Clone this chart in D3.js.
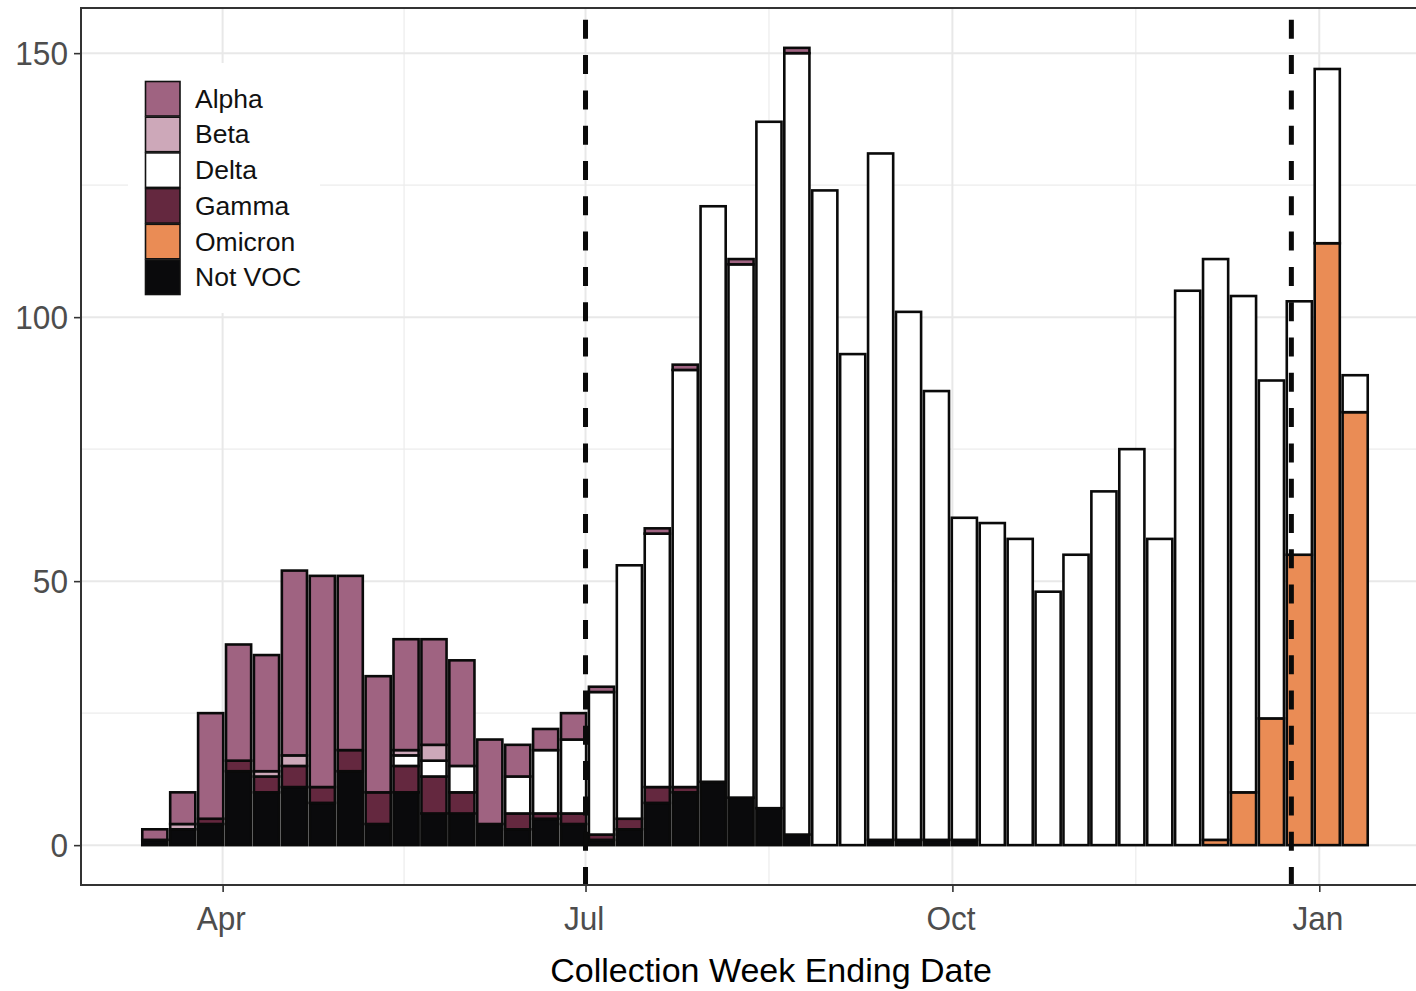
<!DOCTYPE html>
<html>
<head>
<meta charset="utf-8">
<script src="https://cdn.jsdelivr.net/npm/d3@7"></script>
<style>
  html, body { margin: 0; padding: 0; background: #fff; }
  svg { display: block; font-family: "Liberation Sans", Arial, sans-serif; }
</style>
</head>
<body>
<svg id="chart"></svg>
<script>
// week ending dates (one bar each)
const weeks = [
  '2021-03-15', '2021-03-22', '2021-03-29', '2021-04-05', '2021-04-12', '2021-04-19',
  '2021-04-26', '2021-05-03', '2021-05-10', '2021-05-17', '2021-05-24', '2021-05-31',
  '2021-06-07', '2021-06-14', '2021-06-21', '2021-06-28', '2021-07-05', '2021-07-12',
  '2021-07-19', '2021-07-26', '2021-08-02', '2021-08-09', '2021-08-16', '2021-08-23',
  '2021-08-30', '2021-09-06', '2021-09-13', '2021-09-20', '2021-09-27', '2021-10-04',
  '2021-10-11', '2021-10-18', '2021-10-25', '2021-11-01', '2021-11-08', '2021-11-15',
  '2021-11-22', '2021-11-29', '2021-12-06', '2021-12-13', '2021-12-20', '2021-12-27',
  '2022-01-03', '2022-01-10'
];

// sequence counts per lineage, one value per week
const alpha = [2, 6, 20, 22, 22, 35, 40, 33, 22, 21, 20, 20, 16, 6, 4, 5, 1, 0, 1, 1, 0, 1, 0, 1,
  0, 0, 0, 0, 0, 0, 0, 0, 0, 0, 0, 0, 0, 0, 0, 0, 0, 0, 0, 0];
const beta = [0, 1, 0, 0, 1, 2, 0, 0, 0, 1, 3, 0, 0, 0, 0, 0, 0, 0, 0, 0, 0, 0, 0, 0,
  0, 0, 0, 0, 0, 0, 0, 0, 0, 0, 0, 0, 0, 0, 0, 0, 0, 0, 0, 0];
const delta = [0, 0, 0, 0, 0, 0, 0, 0, 0, 2, 3, 5, 0, 7, 12, 14, 27, 48, 48, 79, 109, 101, 130, 148,
  124, 93, 130, 100, 85, 61, 61, 58, 48, 55, 67, 75, 58, 105, 110, 94, 64, 48, 33, 7];
const gamma = [0, 0, 1, 2, 3, 4, 3, 4, 6, 5, 7, 4, 0, 3, 1, 2, 1, 2, 3, 1, 0, 0, 0, 0,
  0, 0, 0, 0, 0, 0, 0, 0, 0, 0, 0, 0, 0, 0, 0, 0, 0, 0, 0, 0];
const omicron = [0, 0, 0, 0, 0, 0, 0, 0, 0, 0, 0, 0, 0, 0, 0, 0, 0, 0, 0, 0, 0, 0, 0, 0,
  0, 0, 0, 0, 0, 0, 0, 0, 0, 0, 0, 0, 0, 0, 1, 10, 24, 55, 114, 82];
const notVoc = [1, 3, 4, 14, 10, 11, 8, 14, 4, 10, 6, 6, 4, 3, 5, 4, 1, 3, 8, 10, 12, 9, 7, 2,
  0, 0, 1, 1, 1, 1, 0, 0, 0, 0, 0, 0, 0, 0, 0, 0, 0, 0, 0, 0];

const lineages = ['Alpha', 'Beta', 'Delta', 'Gamma', 'Omicron', 'Not VOC'];
const lineageColors = ['#9f6381', '#cda8b9', '#ffffff', '#64283f', '#ea8c55', '#0a0a0c'];

// dashed reference dates
const markerDates = ['2021-07-01', '2021-12-25'];
const yTicks = [0, 50, 100, 150];
const xTickDates = ['2021-04-01', '2021-07-01', '2021-10-01', '2022-01-01'];

const dim = {
  width: 1416, height: 991,
  left: 81, top: 8, right: 1429, bottom: 885
};

const parse = d3.utcParse('%Y-%m-%d');
const DAY = 864e5;

const svg = d3.select('#chart')
  .attr('width', dim.width)
  .attr('height', dim.height);

// table for the stack
const seriesByName = {
  'Alpha': alpha, 'Beta': beta, 'Delta': delta,
  'Gamma': gamma, 'Omicron': omicron, 'Not VOC': notVoc
};
const table = weeks.map((w, i) => {
  const row = { date: parse(w) };
  lineages.forEach(k => { row[k] = seriesByName[k][i]; });
  return row;
});

// ggplot-ish stacking: last level at the bottom
const stack = d3.stack().keys(lineages.slice().reverse());
const layers = stack(table);

const colorMap = new Map(lineages.map((k, i) => [k, lineageColors[i]]));

// x domain: bar extent + 5% expansion
const halfBar = 0.45 * 7 * DAY;
const x0 = +table[0].date - halfBar;
const x1 = +table[table.length - 1].date + halfBar;
const pad = 0.05 * (x1 - x0);
const x = d3.scaleUtc()
  .domain([new Date(x0 - pad), new Date(x1 + pad)])
  .range([dim.left, dim.right]);

const maxTotal = d3.max(table, d => lineages.reduce((s, k) => s + d[k], 0));
const y = d3.scaleLinear()
  .domain([-0.05 * maxTotal, maxTotal * 1.05])
  .range([dim.bottom, dim.top]);

svg.append('clipPath').attr('id', 'panel-clip')
  .append('rect')
  .attr('x', dim.left).attr('y', dim.top)
  .attr('width', dim.right - dim.left).attr('height', dim.bottom - dim.top);

const panel = svg.append('g').attr('clip-path', 'url(#panel-clip)');

// grid lines
const xMajor = xTickDates.map(parse);
const xMinor = d3.pairs(xMajor).map(([a, b]) => new Date((+a + +b) / 2));
const yMinor = d3.pairs(yTicks).map(([a, b]) => (a + b) / 2);

panel.selectAll('.ygrid-minor').data(yMinor).join('line')
  .attr('x1', dim.left).attr('x2', dim.right)
  .attr('y1', d => y(d)).attr('y2', d => y(d))
  .attr('stroke', '#ececec').attr('stroke-width', 1.2);
panel.selectAll('.xgrid-minor').data(xMinor).join('line')
  .attr('x1', d => x(d)).attr('x2', d => x(d))
  .attr('y1', dim.top).attr('y2', dim.bottom)
  .attr('stroke', '#ececec').attr('stroke-width', 1.2);
panel.selectAll('.ygrid').data(yTicks).join('line')
  .attr('x1', dim.left).attr('x2', dim.right)
  .attr('y1', d => y(d)).attr('y2', d => y(d))
  .attr('stroke', '#e8e8e8').attr('stroke-width', 2);
panel.selectAll('.xgrid').data(xMajor).join('line')
  .attr('x1', d => x(d)).attr('x2', d => x(d))
  .attr('y1', dim.top).attr('y2', dim.bottom)
  .attr('stroke', '#e8e8e8').attr('stroke-width', 2);

// stacked bars, each segment outlined
const barW = x(new Date(+table[0].date + halfBar)) - x(new Date(+table[0].date - halfBar));
layers.forEach(layer => {
  panel.append('g')
    .selectAll('rect')
    .data(layer.filter(d => d[1] - d[0] > 0))
    .join('rect')
    .attr('x', d => x(d.data.date) - barW / 2)
    .attr('y', d => y(d[1]))
    .attr('width', barW)
    .attr('height', d => y(d[0]) - y(d[1]))
    .attr('fill', colorMap.get(layer.key))
    .attr('stroke', '#0a0a0a')
    .attr('stroke-width', 2.6);
});

// dashed markers
panel.selectAll('.marker').data(markerDates.map(parse)).join('line')
  .attr('x1', d => x(d)).attr('x2', d => x(d))
  .attr('y1', dim.bottom + 1).attr('y2', dim.top)
  .attr('stroke', '#0a0a0a')
  .attr('stroke-width', 5)
  .attr('stroke-dasharray', '19 16.3');

// legend
const legendDim = { x: 128, y: 63, width: 192, height: 250, keyX: 145.5, keyY: 81.5, key: 34.5, pitch: 35.7, gap: 15 };
const legend = svg.append('g');
legend.append('rect')
  .attr('x', legendDim.x).attr('y', legendDim.y)
  .attr('width', legendDim.width).attr('height', legendDim.height)
  .attr('fill', '#fff');
lineages.forEach((k, i) => {
  legend.append('rect')
    .attr('x', legendDim.keyX)
    .attr('y', legendDim.keyY + legendDim.pitch * i)
    .attr('width', legendDim.key).attr('height', legendDim.key)
    .attr('fill', colorMap.get(k))
    .attr('stroke', '#111').attr('stroke-width', 1.6);
  legend.append('text')
    .attr('x', legendDim.keyX + legendDim.key + legendDim.gap)
    .attr('y', legendDim.keyY + legendDim.pitch * i + legendDim.key / 2 + 9)
    .attr('font-size', 26.5)
    .attr('fill', '#111')
    .text(k);
});

// panel border (right edge falls outside the picture)
svg.append('rect')
  .attr('x', dim.left).attr('y', dim.top)
  .attr('width', dim.right - dim.left).attr('height', dim.bottom - dim.top)
  .attr('fill', 'none').attr('stroke', '#333').attr('stroke-width', 2);

// axes
const yAxis = svg.append('g')
  .attr('transform', `translate(${dim.left},0)`)
  .call(d3.axisLeft(y).tickValues(yTicks).tickSize(7).tickPadding(7));
const xAxis = svg.append('g')
  .attr('transform', `translate(0,${dim.bottom})`)
  .call(d3.axisBottom(x).tickValues(xMajor).tickFormat(d3.utcFormat('%b')).tickSize(7).tickPadding(14));

[yAxis, xAxis].forEach(ax => {
  ax.select('.domain').remove();
  ax.selectAll('.tick line').attr('stroke', '#333').attr('stroke-width', 1.6);
  ax.selectAll('.tick text')
    .attr('font-size', 34)
    .attr('font-family', '"Liberation Sans", Arial, sans-serif')
    .attr('fill', '#4d4d4d')
    .attr('transform', 'scale(0.93,1)');
});
// scaling pulls bottom labels toward tick origin only horizontally; x=0 there so fine
xAxis.selectAll('.tick text').attr('x', -2);

svg.append('text')
  .attr('x', 771)
  .attr('y', 982)
  .attr('text-anchor', 'middle')
  .attr('font-size', 34)
  .attr('fill', '#000')
  .text('Collection Week Ending Date');
</script>
</body>
</html>
